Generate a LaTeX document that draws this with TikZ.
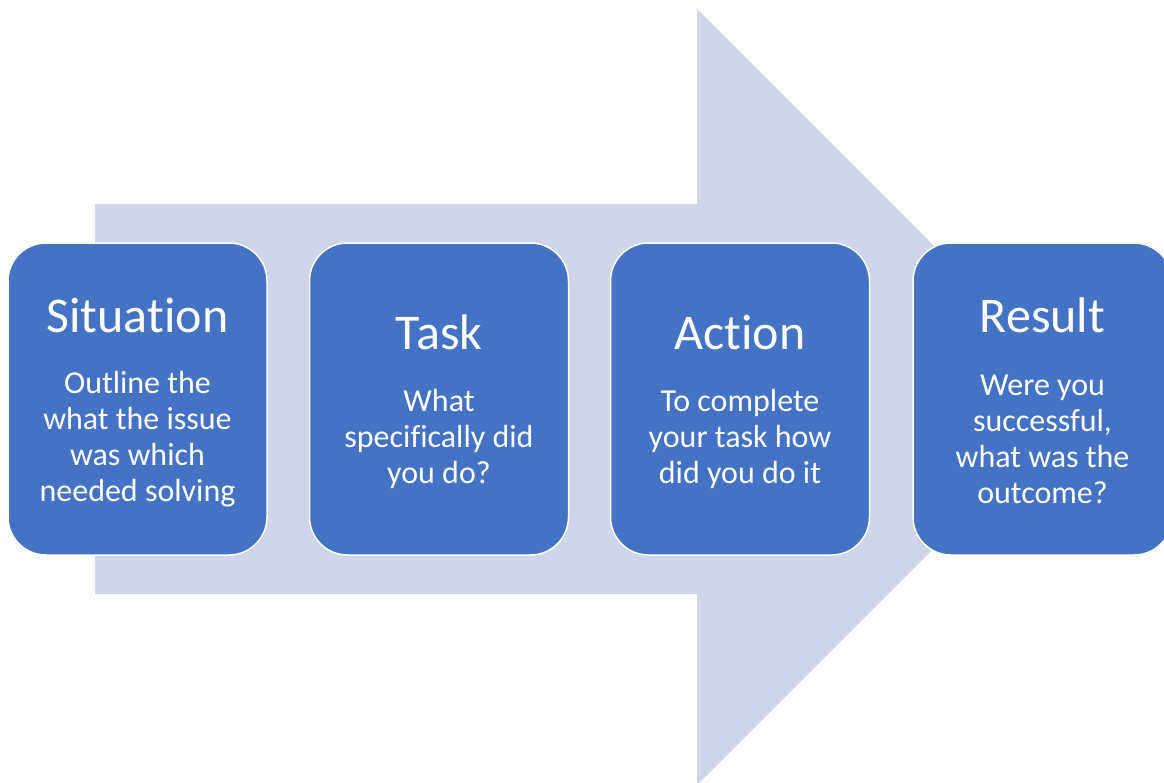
\documentclass[tikz,border=0pt]{standalone}
\usepackage{fontspec}
\setmainfont{Carlito}[Ligatures=NoCommon]
\definecolor{arrowfill}{HTML}{CFD5EA}
\definecolor{boxfill}{HTML}{4472C4}
\tikzset{
  starbox/.style={rectangle, rounded corners=38pt, fill=boxfill, draw=white,
    line width=1.5pt, minimum width=259pt, minimum height=312pt},
  headtext/.style={text=white, font=\fontsize{50}{58}\selectfont},
  bodytext/.style={text=white, align=center, font=\fontsize{32}{36}\selectfont}
}
\begin{document}
\begin{tikzpicture}[x=1pt,y=-1pt]
  \useasboundingbox (0,0) rectangle (1164,782);
  % big background arrow
  \fill[arrowfill] (95,204) -- (697,204) -- (697,9) -- (1085,397)
    -- (697,785) -- (697,594) -- (95,594) -- cycle;
  % the four steps
  \node[starbox] (situation) at (137.5,399) {};
  \node[starbox] (task) at (439,399) {};
  \node[starbox] (action) at (740,399) {};
  \node[starbox] (result) at (1042.5,399) {};
  \node[headtext] (situationhead) at (137.5,315) {Situation};
  \node[headtext] (taskhead) at (439,332) {Task};
  \node[headtext] (actionhead) at (740,332) {Action};
  \node[headtext] (resulthead) at (1042.5,315) {Result};
  \node[bodytext] (situationbody) at (137.5,439)
    {Outline the\\what the issue\\was which\\needed solving};
  \node[bodytext] (taskbody) at (439,439) {What\\specifically did\\you do?};
  \node[bodytext] (actionbody) at (740,439) {To complete\\your task how\\did you do it};
  \node[bodytext] (resultbody) at (1042.5,439)
    {Were you\\successful,\\what was the\\outcome?};
\end{tikzpicture}
\end{document}
